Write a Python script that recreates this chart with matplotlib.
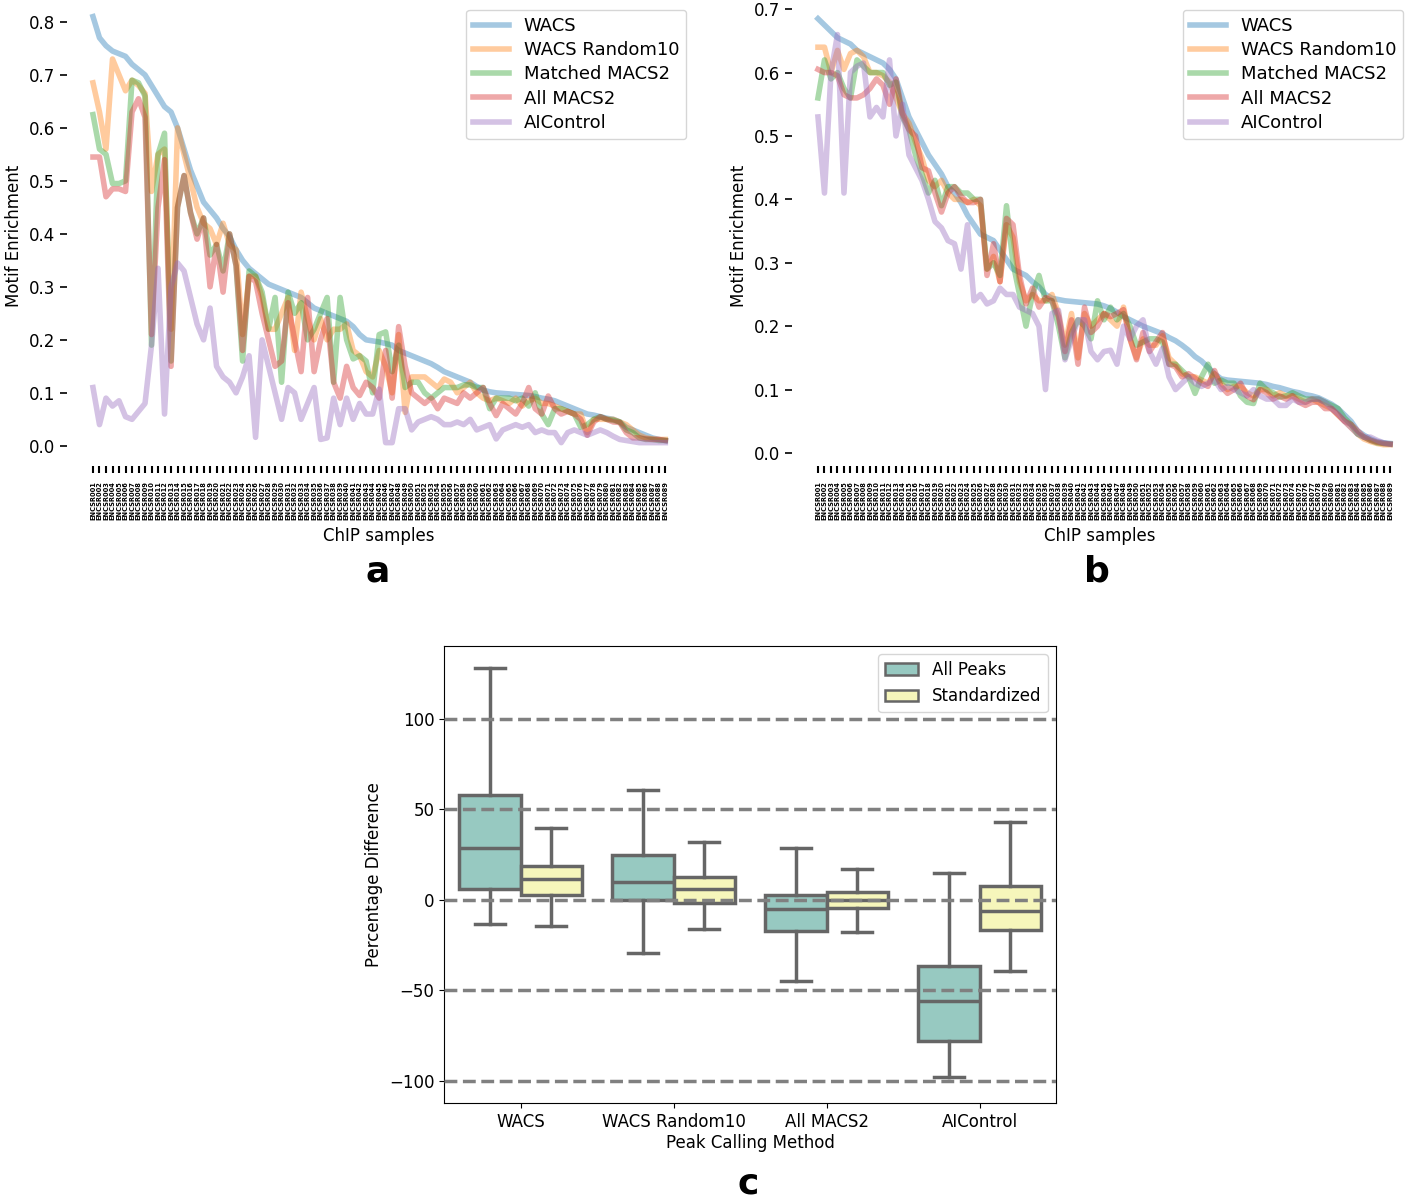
import matplotlib
matplotlib.use("Agg")
import matplotlib.pyplot as plt
from matplotlib.patches import Patch

# ---- panel a: motif enrichment per ChIP sample ----
a_wacs = [0.81, 0.77, 0.755, 0.745, 0.74, 0.735, 0.72, 0.71, 0.70, 0.68, 0.66, 0.64, 0.63, 0.60, 0.56,
          0.52, 0.49, 0.46, 0.445, 0.43, 0.41, 0.395, 0.37, 0.35, 0.335, 0.325, 0.315, 0.305, 0.30, 0.295,
          0.29, 0.285, 0.28, 0.27, 0.26, 0.255, 0.25, 0.245, 0.24, 0.235, 0.225, 0.21, 0.20, 0.198, 0.196,
          0.193, 0.19, 0.18, 0.175, 0.17, 0.165, 0.16, 0.155, 0.148, 0.14, 0.135, 0.13, 0.125, 0.12, 0.112,
          0.105, 0.102, 0.10, 0.099, 0.098, 0.097, 0.096, 0.095, 0.093, 0.09, 0.088, 0.085, 0.08, 0.075, 0.07,
          0.065, 0.06, 0.058, 0.055, 0.052, 0.05, 0.045, 0.035, 0.03, 0.025, 0.02, 0.015, 0.012, 0.01]
a_rand10 = [0.685, 0.63, 0.56, 0.73, 0.70, 0.67, 0.69, 0.68, 0.665, 0.48, 0.55, 0.56, 0.22, 0.60, 0.55,
            0.50, 0.45, 0.42, 0.41, 0.38, 0.42, 0.38, 0.37, 0.21, 0.32, 0.32, 0.28, 0.22, 0.22, 0.25,
            0.28, 0.18, 0.29, 0.24, 0.20, 0.24, 0.20, 0.22, 0.22, 0.23, 0.18, 0.17, 0.14, 0.13, 0.18,
            0.15, 0.10, 0.21, 0.063, 0.13, 0.13, 0.13, 0.12, 0.11, 0.126, 0.12, 0.10, 0.11, 0.12, 0.10,
            0.09, 0.085, 0.09, 0.085, 0.08, 0.09, 0.075, 0.085, 0.09, 0.08, 0.08, 0.075, 0.07, 0.065, 0.06,
            0.06, 0.025, 0.05, 0.05, 0.05, 0.05, 0.045, 0.04, 0.03, 0.02, 0.015, 0.013, 0.012, 0.012]
a_matched = [0.625, 0.56, 0.55, 0.495, 0.495, 0.50, 0.69, 0.685, 0.66, 0.19, 0.55, 0.59, 0.16, 0.45, 0.51,
             0.44, 0.40, 0.43, 0.36, 0.38, 0.33, 0.40, 0.34, 0.16, 0.33, 0.32, 0.29, 0.22, 0.28, 0.12,
             0.29, 0.25, 0.27, 0.20, 0.22, 0.25, 0.28, 0.12, 0.28, 0.20, 0.164, 0.17, 0.16, 0.10, 0.21,
             0.215, 0.14, 0.19, 0.11, 0.12, 0.12, 0.10, 0.09, 0.10, 0.11, 0.11, 0.11, 0.115, 0.115, 0.11,
             0.11, 0.07, 0.09, 0.09, 0.09, 0.085, 0.09, 0.075, 0.10, 0.06, 0.04, 0.07, 0.07, 0.065, 0.06,
             0.035, 0.04, 0.05, 0.055, 0.05, 0.048, 0.045, 0.03, 0.025, 0.015, 0.012, 0.012, 0.01, 0.01]
a_allmacs = [0.545, 0.545, 0.47, 0.485, 0.485, 0.48, 0.63, 0.655, 0.62, 0.21, 0.45, 0.54, 0.15, 0.45, 0.51,
             0.44, 0.39, 0.43, 0.30, 0.38, 0.29, 0.40, 0.34, 0.18, 0.32, 0.31, 0.25, 0.20, 0.15, 0.16,
             0.27, 0.20, 0.14, 0.28, 0.14, 0.20, 0.24, 0.12, 0.09, 0.15, 0.11, 0.095, 0.12, 0.11, 0.09,
             0.18, 0.09, 0.225, 0.15, 0.10, 0.09, 0.08, 0.09, 0.07, 0.09, 0.085, 0.08, 0.10, 0.09, 0.10,
             0.11, 0.08, 0.057, 0.08, 0.07, 0.06, 0.08, 0.11, 0.07, 0.06, 0.094, 0.07, 0.06, 0.065, 0.06,
             0.05, 0.02, 0.045, 0.055, 0.05, 0.045, 0.044, 0.025, 0.015, 0.015, 0.013, 0.012, 0.012, 0.01]
a_aicontrol = [0.11, 0.04, 0.09, 0.075, 0.085, 0.055, 0.05, 0.065, 0.08, 0.19, 0.335, 0.06, 0.30, 0.345, 0.33,
               0.28, 0.23, 0.20, 0.26, 0.15, 0.13, 0.12, 0.10, 0.13, 0.17, 0.016, 0.20, 0.15, 0.10, 0.05,
               0.11, 0.10, 0.05, 0.08, 0.11, 0.012, 0.015, 0.09, 0.04, 0.09, 0.05, 0.08, 0.06, 0.06, 0.107,
               0.006, 0.006, 0.07, 0.07, 0.03, 0.045, 0.05, 0.055, 0.05, 0.04, 0.04, 0.045, 0.04, 0.05, 0.03,
               0.035, 0.04, 0.013, 0.03, 0.035, 0.04, 0.035, 0.04, 0.025, 0.03, 0.025, 0.025, 0.006, 0.025, 0.03,
               0.025, 0.02, 0.025, 0.03, 0.025, 0.018, 0.012, 0.01, 0.008, 0.006, 0.006, 0.006, 0.006, 0.006]

# ---- panel b ----
b_wacs = [0.685, 0.675, 0.665, 0.655, 0.65, 0.645, 0.635, 0.63, 0.625, 0.62, 0.615, 0.605, 0.59, 0.56, 0.53,
          0.51, 0.49, 0.47, 0.455, 0.44, 0.42, 0.41, 0.395, 0.375, 0.36, 0.345, 0.34, 0.335, 0.32, 0.305,
          0.29, 0.285, 0.28, 0.27, 0.262, 0.25, 0.244, 0.242, 0.24, 0.239, 0.238, 0.237, 0.236, 0.235, 0.232,
          0.228, 0.222, 0.215, 0.21, 0.205, 0.20, 0.196, 0.192, 0.188, 0.182, 0.177, 0.17, 0.162, 0.152, 0.145,
          0.135, 0.125, 0.117, 0.115, 0.114, 0.113, 0.112, 0.111, 0.11, 0.108, 0.105, 0.103, 0.10, 0.097, 0.095,
          0.092, 0.09, 0.087, 0.082, 0.077, 0.07, 0.06, 0.05, 0.035, 0.028, 0.022, 0.018, 0.016, 0.015]
b_rand10 = [0.64, 0.64, 0.60, 0.635, 0.605, 0.63, 0.635, 0.625, 0.60, 0.60, 0.595, 0.585, 0.56, 0.535, 0.52,
            0.49, 0.465, 0.43, 0.42, 0.43, 0.41, 0.40, 0.40, 0.395, 0.40, 0.39, 0.29, 0.31, 0.27, 0.36,
            0.34, 0.27, 0.24, 0.25, 0.24, 0.24, 0.25, 0.22, 0.17, 0.22, 0.15, 0.22, 0.20, 0.21, 0.22,
            0.21, 0.20, 0.23, 0.18, 0.15, 0.18, 0.17, 0.17, 0.185, 0.15, 0.14, 0.125, 0.12, 0.12, 0.115,
            0.11, 0.125, 0.11, 0.10, 0.105, 0.105, 0.095, 0.09, 0.10, 0.10, 0.09, 0.095, 0.09, 0.09, 0.085,
            0.08, 0.085, 0.08, 0.075, 0.07, 0.06, 0.05, 0.04, 0.03, 0.022, 0.018, 0.015, 0.013, 0.013]
b_matched = [0.56, 0.62, 0.59, 0.60, 0.575, 0.56, 0.62, 0.61, 0.60, 0.60, 0.60, 0.58, 0.585, 0.53, 0.51,
             0.47, 0.44, 0.41, 0.43, 0.39, 0.42, 0.42, 0.41, 0.41, 0.40, 0.40, 0.29, 0.30, 0.28, 0.39,
             0.30, 0.25, 0.20, 0.25, 0.28, 0.24, 0.24, 0.20, 0.15, 0.19, 0.21, 0.20, 0.18, 0.24, 0.21,
             0.23, 0.21, 0.22, 0.20, 0.17, 0.175, 0.18, 0.18, 0.175, 0.14, 0.14, 0.13, 0.12, 0.094, 0.12,
             0.14, 0.11, 0.115, 0.11, 0.11, 0.09, 0.08, 0.078, 0.11, 0.10, 0.095, 0.088, 0.09, 0.095, 0.09,
             0.085, 0.085, 0.085, 0.08, 0.075, 0.07, 0.055, 0.045, 0.03, 0.025, 0.02, 0.016, 0.015, 0.014]
b_allmacs = [0.605, 0.60, 0.60, 0.595, 0.565, 0.56, 0.56, 0.565, 0.575, 0.59, 0.58, 0.55, 0.59, 0.535, 0.51,
             0.50, 0.45, 0.445, 0.41, 0.38, 0.41, 0.42, 0.405, 0.395, 0.395, 0.40, 0.28, 0.33, 0.27, 0.37,
             0.36, 0.28, 0.235, 0.26, 0.23, 0.245, 0.24, 0.215, 0.16, 0.21, 0.14, 0.23, 0.19, 0.20, 0.22,
             0.215, 0.22, 0.226, 0.18, 0.147, 0.19, 0.16, 0.175, 0.19, 0.14, 0.136, 0.12, 0.125, 0.118, 0.11,
             0.105, 0.13, 0.105, 0.094, 0.10, 0.11, 0.09, 0.084, 0.10, 0.095, 0.085, 0.09, 0.085, 0.09, 0.08,
             0.075, 0.08, 0.08, 0.07, 0.07, 0.06, 0.05, 0.045, 0.035, 0.025, 0.02, 0.017, 0.015, 0.014]
b_aicontrol = [0.53, 0.41, 0.60, 0.66, 0.41, 0.60, 0.61, 0.615, 0.53, 0.545, 0.53, 0.62, 0.50, 0.55, 0.47,
               0.45, 0.43, 0.40, 0.365, 0.355, 0.335, 0.33, 0.29, 0.36, 0.24, 0.25, 0.235, 0.24, 0.26, 0.25,
               0.25, 0.23, 0.225, 0.22, 0.20, 0.10, 0.22, 0.225, 0.147, 0.18, 0.21, 0.21, 0.16, 0.147, 0.16,
               0.162, 0.14, 0.20, 0.18, 0.20, 0.21, 0.16, 0.14, 0.165, 0.12, 0.10, 0.11, 0.12, 0.11, 0.105,
               0.11, 0.115, 0.10, 0.105, 0.10, 0.095, 0.09, 0.10, 0.09, 0.085, 0.085, 0.075, 0.075, 0.085, 0.08,
               0.08, 0.085, 0.085, 0.08, 0.07, 0.062, 0.05, 0.04, 0.03, 0.025, 0.025, 0.02, 0.016, 0.014]

series_names = ["WACS", "WACS Random10", "Matched MACS2", "All MACS2", "AIControl"]
sample_labels = ["ENCSR%03d" % (i + 1) for i in range(len(a_wacs))]

# ---- panel c: box statistics (percent difference) ----
methods = ["WACS", "WACS Random10", "All MACS2", "AIControl"]
# whislo, q1, med, q3, whishi
allpeaks_stats = [(-13.5, 6, 28.5, 58, 128),
                  (-29.5, 0, 10, 25, 61),
                  (-45, -17, -5, 3, 28.5),
                  (-98, -78, -56, -36.5, 15)]
standard_stats = [(-14.5, 3, 11.5, 19, 40),
                  (-16, -1.5, 6, 12.5, 32),
                  (-17.5, -4.5, 0, 4.5, 17),
                  (-39.5, -16.5, -6, 8, 43)]


def line_panel(ax, data, xmax, ylim, yticks):
    for vals, name, col in zip(data, series_names, ["C0", "C1", "C2", "C3", "C4"]):
        ax.plot(range(len(vals)), vals, color=col, lw=4, alpha=0.4, label=name)
    for s in ax.spines.values():
        s.set_visible(False)
    ax.set_xlim(-4, xmax)
    ax.set_ylim(*ylim)
    ax.set_yticks(yticks)
    ax.set_xticks(range(len(sample_labels)))
    ax.set_xticklabels(sample_labels, rotation=90, fontsize=4.8, fontweight="bold")
    ax.tick_params(axis="y", labelsize=12, length=5, width=1.2)
    ax.tick_params(axis="x", length=5, width=1.5, pad=6)
    ax.set_ylabel("Motif Enrichment", fontsize=12)
    ax.set_xlabel("ChIP samples", fontsize=12, labelpad=5)
    ax.legend(loc="upper right", fontsize=13, borderaxespad=0.2, labelspacing=0.35)


fig = plt.figure(figsize=(14.16, 12), dpi=100)

ax_a = fig.add_axes([0.0473, 0.6117, 0.44, 0.3833])
line_panel(ax_a, [a_wacs, a_rand10, a_matched, a_allmacs, a_aicontrol], 91.8, (-0.038, 0.83),
           [0.0, 0.1, 0.2, 0.3, 0.4, 0.5, 0.6, 0.7, 0.8])

ax_b = fig.add_axes([0.5593, 0.6117, 0.4343, 0.3833])
line_panel(ax_b, [b_wacs, b_rand10, b_matched, b_allmacs, b_aicontrol], 90.6, (-0.0205, 0.705),
           [0.0, 0.1, 0.2, 0.3, 0.4, 0.5, 0.6, 0.7])

# ---- panel c ----
ax_c = fig.add_axes([0.3136, 0.0808, 0.4322, 0.3808])
teal, yellow, edge = "#97c9c1", "#f6f6bb", "#666666"
for offset, stats_list, col in [(-0.2, allpeaks_stats, teal), (0.2, standard_stats, yellow)]:
    stats = [dict(whislo=s[0], q1=s[1], med=s[2], q3=s[3], whishi=s[4], fliers=[]) for s in stats_list]
    ax_c.bxp(stats, positions=[i + offset for i in range(len(methods))], widths=0.4,
             capwidths=0.2, patch_artist=True, showfliers=False,
             boxprops=dict(facecolor=col, edgecolor=edge, linewidth=2.5),
             medianprops=dict(color=edge, linewidth=2.5),
             whiskerprops=dict(color=edge, linewidth=2.5),
             capprops=dict(color=edge, linewidth=2.5))
for yv in [-100, -50, 0, 50, 100]:
    ax_c.axhline(yv, color="gray", ls="--", lw=2.5, zorder=5)
ax_c.set_xlim(-0.5, 3.5)
ax_c.set_ylim(-112.2, 140.3)
ax_c.set_xticks(range(len(methods)))
ax_c.set_xticklabels(methods, fontsize=12)
ax_c.set_yticks([-100, -50, 0, 50, 100])
ax_c.tick_params(axis="y", labelsize=12)
ax_c.set_xlabel("Peak Calling Method", fontsize=12, labelpad=2)
ax_c.set_ylabel("Percentage Difference", fontsize=12)
ax_c.legend(handles=[Patch(facecolor=teal, edgecolor=edge, lw=1.8, label="All Peaks"),
                     Patch(facecolor=yellow, edgecolor=edge, lw=1.8, label="Standardized")],
            loc="upper right", fontsize=12)

fig.text(378 / 1416, 1 - 572 / 1200, "a", fontsize=26, fontweight="bold", ha="center", va="center")
fig.text(1097 / 1416, 1 - 572 / 1200, "b", fontsize=26, fontweight="bold", ha="center", va="center")
fig.text(748 / 1416, 1 - 1183 / 1200, "c", fontsize=26, fontweight="bold", ha="center", va="center")

fig.savefig("out.png", dpi=100)
